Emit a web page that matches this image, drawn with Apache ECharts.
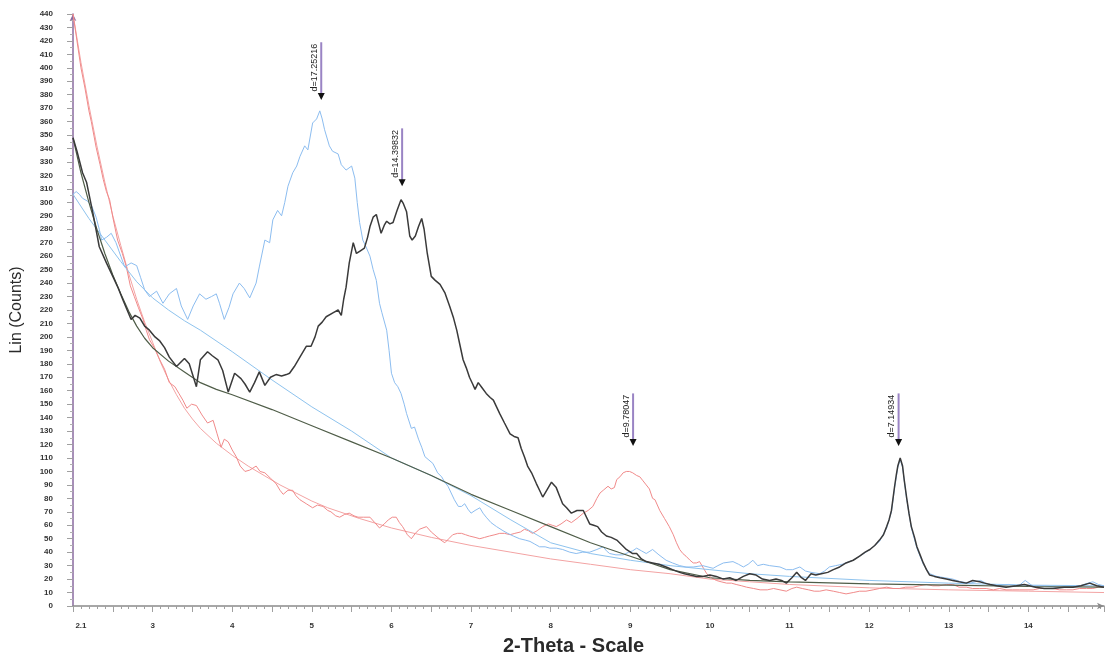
<!DOCTYPE html>
<html><head><meta charset="utf-8">
<script src="https://cdn.jsdelivr.net/npm/echarts@6/dist/echarts.min.js"></script>
<style>html,body{margin:0;padding:0;background:#fff}#c{width:1109px;height:662px}</style>
</head><body><div id="c"></div>
<script>
// ---- data (2-Theta, Lin counts) ----
const blackTheta = [2.00,2.05,2.12,2.17,2.25,2.33,2.42,2.50,2.57,2.63,2.73,2.78,2.84,2.90,2.96,3.03,3.09,3.15,3.21,3.30,3.40,3.46,3.55,3.60,3.69,3.75,3.82,3.88,3.95,4.03,4.11,4.16,4.22,4.28,4.34,4.41,4.48,4.55,4.62,4.68,4.72,4.78,4.85,4.93,4.99,5.04,5.08,5.13,5.18,5.27,5.33,5.37,5.40,5.43,5.47,5.52,5.56,5.61,5.66,5.70,5.73,5.77,5.81,5.84,5.87,5.91,5.94,5.98,6.02,6.07,6.12,6.15,6.19,6.23,6.26,6.30,6.34,6.38,6.41,6.45,6.50,6.55,6.61,6.67,6.73,6.78,6.82,6.86,6.90,6.94,6.98,7.02,7.05,7.09,7.14,7.19,7.24,7.28,7.32,7.36,7.42,7.49,7.54,7.59,7.63,7.67,7.71,7.76,7.82,7.86,7.90,7.95,8.01,8.07,8.11,8.15,8.20,8.26,8.33,8.41,8.45,8.49,8.54,8.59,8.64,8.70,8.76,8.83,8.90,8.95,9.03,9.08,9.14,9.20,9.28,9.36,9.45,9.53,9.62,9.68,9.75,9.83,9.91,10.00,10.08,10.17,10.25,10.33,10.42,10.50,10.58,10.66,10.75,10.83,10.90,10.96,11.03,11.09,11.15,11.20,11.27,11.33,11.40,11.48,11.55,11.63,11.71,11.80,11.88,11.95,12.01,12.07,12.13,12.18,12.22,12.25,12.28,12.30,12.32,12.34,12.36,12.39,12.42,12.44,12.47,12.50,12.53,12.57,12.60,12.64,12.68,12.72,12.76,12.82,12.89,12.97,13.05,13.13,13.22,13.30,13.39,13.45,13.52,13.60,13.72,13.85,13.95,14.09,14.20,14.31,14.45,14.56,14.66,14.77,14.86,14.95];
const blackCounts = [348,338,322,315,292,267,255,245,236,227,213,216,214,208,205,200,197,192,185,178,184,180,163,183,189,186,183,175,159,173,169,165,159,166,174,164,170,172,171,172,173,178,185,193,193,200,208,211,215,218,220,216,228,237,255,270,262,264,266,274,282,289,291,284,277,283,286,284,285,294,302,299,293,275,272,275,282,288,280,262,245,242,239,233,223,214,205,194,183,177,170,165,161,166,162,158,155,153,148,143,136,128,126,125,117,111,104,99,91,86,81,86,92,88,82,76,73,69,71,71,66,61,60,59,55,52,51,49,45,42,39,39,35,33,32,31,29,27,25,24,23,22,22,23,22,20,21,19,22,24,23,20,19,20,19,17,21,25,21,19,24,23,24,25,27,29,32,34,37,40,42,45,49,53,59,64,71,80,89,97,104,110,104,94,81,69,59,51,44,38,32,27,23,22,21,20,19,18,17,19,18,17,16,15,14,15,16,14,13,13,14,14,15,17,15,14];

const blackBgTheta = [2.0,2.1,2.2,2.3,2.4,2.5,2.6,2.7,2.8,2.9,3.0,3.2,3.4,3.6,3.8,4.0,4.5,5.0,5.5,6.0,6.5,7.0,7.5,8.0,8.5,9.0,9.5,10.0,10.5,11.0,12.0,13.0,14.0,14.95];
const blackBgCounts = [348,322,300,280,262,246,232,219,208,199,192,182,174,166,161,157,146,134,122,110,97,83,71,59,47,37,27,21,19,18,16.5,15.5,14.5,14];

const blueTheta = [2.00,2.04,2.08,2.12,2.18,2.23,2.29,2.33,2.36,2.42,2.48,2.54,2.60,2.65,2.73,2.80,2.85,2.90,2.96,3.05,3.13,3.21,3.30,3.36,3.44,3.51,3.59,3.67,3.74,3.80,3.84,3.90,3.96,4.01,4.09,4.15,4.22,4.30,4.34,4.41,4.47,4.51,4.57,4.62,4.66,4.70,4.76,4.81,4.85,4.91,4.95,5.01,5.06,5.10,5.13,5.16,5.22,5.26,5.33,5.37,5.43,5.50,5.54,5.57,5.60,5.64,5.68,5.73,5.77,5.81,5.85,5.88,5.94,5.97,6.00,6.04,6.08,6.12,6.16,6.19,6.25,6.29,6.34,6.38,6.42,6.46,6.52,6.58,6.63,6.67,6.71,6.75,6.79,6.84,6.88,6.92,6.96,7.00,7.05,7.11,7.15,7.19,7.25,7.32,7.40,7.46,7.53,7.61,7.68,7.74,7.80,7.86,7.93,7.99,8.07,8.15,8.24,8.32,8.40,8.49,8.58,8.66,8.70,8.74,8.82,8.91,8.98,9.03,9.08,9.14,9.20,9.28,9.36,9.45,9.53,9.62,9.70,9.79,9.91,10.04,10.10,10.17,10.29,10.36,10.42,10.48,10.54,10.60,10.67,10.75,10.88,10.96,11.04,11.13,11.20,11.27,11.38,11.44,11.50,11.58,11.66,11.75,11.80,11.88,12.01,12.13,12.22,12.28,12.32,12.36,12.39,12.42,12.47,12.53,12.60,12.68,12.76,12.85,12.95,13.05,13.15,13.27,13.40,13.50,13.62,13.75,13.88,13.96,14.05,14.20,14.35,14.50,14.65,14.75,14.81,14.88,14.95];
const blueCounts = [306,308,306,303,301,298,289,280,272,274,277,270,260,252,255,253,244,235,230,234,225,232,236,223,213,223,232,228,230,232,225,213,222,232,240,236,229,240,252,272,270,287,294,290,300,312,322,327,334,342,339,359,362,368,362,354,342,338,336,328,324,327,318,300,285,272,267,260,250,242,225,218,205,190,173,166,163,158,150,143,132,133,124,118,111,109,106,99,96,92,89,84,79,74,74,76,72,69,71,73,69,66,62,59,56,54,52,50,49,48,46,44,44,43,43,42,40,39,40,40,42,44,41,39,38,38,40,41,43,41,39,42,38,34,32,30,29,29,30,28,30,32,33,31,29,31,34,30,31,30,29,27,27,29,26,25,24,26,29,30,31,33,34,37,42,48,58,70,88,103,109,103,80,58,43,31,24,22,21,20,18,17,19,16,15,16,15,19,15,15,14,14,15,17,18,16,15];

const blueBgTheta = [2.0,2.2,2.4,2.6,2.8,3.0,3.2,3.4,3.6,4.0,4.5,5.0,5.5,6.0,6.5,7.0,7.5,8.0,8.5,9.0,9.5,10.0,10.5,11.0,12.0,13.0,14.0,14.95];
const blueBgCounts = [306,288,272,256,241,229,220,212,205,189,168,148,130,110,97,82,64,47,39,34,30,27,24,22,19,17,15.5,15];

const redTheta = [2.00,2.05,2.10,2.15,2.20,2.23,2.29,2.34,2.38,2.42,2.46,2.50,2.56,2.62,2.67,2.72,2.77,2.82,2.88,2.92,2.96,3.02,3.09,3.15,3.21,3.28,3.33,3.38,3.43,3.49,3.55,3.62,3.69,3.76,3.81,3.86,3.90,3.95,4.00,4.05,4.10,4.16,4.22,4.30,4.35,4.41,4.48,4.55,4.60,4.64,4.70,4.76,4.80,4.85,4.93,5.01,5.07,5.14,5.20,5.24,5.30,5.35,5.41,5.47,5.53,5.58,5.65,5.73,5.79,5.85,5.91,5.96,6.01,6.06,6.10,6.14,6.20,6.25,6.30,6.35,6.44,6.50,6.56,6.62,6.67,6.72,6.77,6.83,6.88,6.93,6.98,7.05,7.11,7.17,7.23,7.30,7.36,7.42,7.49,7.55,7.62,7.67,7.72,7.77,7.83,7.90,7.97,8.02,8.07,8.13,8.20,8.26,8.33,8.41,8.47,8.53,8.58,8.62,8.66,8.72,8.76,8.80,8.83,8.87,8.91,8.95,8.99,9.03,9.08,9.12,9.16,9.20,9.24,9.28,9.31,9.37,9.43,9.49,9.54,9.58,9.62,9.66,9.70,9.75,9.79,9.83,9.87,9.92,9.96,10.02,10.08,10.14,10.21,10.27,10.33,10.40,10.46,10.55,10.63,10.72,10.80,10.88,10.96,11.03,11.09,11.16,11.24,11.31,11.38,11.46,11.55,11.63,11.71,11.80,11.88,11.96,12.05,12.13,12.22,12.30,12.38,12.46,12.55,12.63,12.72,12.80,12.88,12.97,13.05,13.13,13.22,13.30,13.39,13.47,13.56,13.64,13.72,13.80,13.89,13.97,14.06,14.14,14.22,14.31,14.39,14.48,14.56,14.64,14.73,14.81,14.88,14.95];
const redCounts = [440,420,400,385,368,360,341,328,317,308,302,289,272,262,252,238,230,222,213,205,198,192,183,176,166,163,158,153,147,150,149,142,136,138,128,118,124,122,116,111,104,100,101,104,100,99,95,91,86,83,86,86,82,79,76,73,75,74,71,70,67,66,68,69,67,66,66,66,62,58,61,64,66,66,62,59,53,50,54,57,59,55,52,49,47,50,53,54,54,53,52,51,50,51,52,53,54,54,53,54,55,57,56,54,56,59,61,60,59,61,64,62,65,69,71,74,80,84,86,89,87,88,94,96,99,100,100,99,97,96,93,90,87,80,79,71,65,59,53,47,42,39,37,34,32,32,33,28,24,21,19,18,17,17,16,15,14,13,12,12,13,12,11,13,14,13,12,11,11,12,11,10,9,10,11,11,12,13,14,13,13,14,14,15,16,15,15,16,16,14,14,13,13,13,12,13,12,12,12,12,12,13,13,13,12,12,12,13,13,13,14,14];

const redBgTheta = [2.0,2.1,2.2,2.3,2.4,2.5,2.6,2.7,2.8,2.9,3.0,3.1,3.2,3.3,3.4,3.5,3.6,3.8,4.0,4.2,4.4,4.6,4.8,5.0,5.2,5.6,6.0,6.5,7.0,7.5,8.0,8.5,9.0,9.5,10.0,10.5,11.0,12.0,13.0,14.0,14.95];
const redBgCounts = [440,404,372,342,315,290,268,247,228,211,196,181,168,157,147,139,132,121,112,104,97,90,84,78,73,65,58,51,45,40,35,31,27,24,20,18,16,13.5,12,11,10];

// peak markers
const peakTheta = [5.118, 6.134, 9.035, 12.37];
const peakLabels = ['d=17.25216', 'd=14.39832', 'd=9.78047', 'd=7.14934'];
const markerTop = [419, 355, 158, 158];
const markerTip = [376, 312, 119, 119];

function pairs(xs, ys) { return xs.map((x, i) => [x, ys[i]]); }

const chart = echarts.init(document.getElementById('c'), null, {renderer: 'canvas'});
const lineBase = {type: 'line', showSymbol: false, symbol: 'none', animation: false, silent: true};
const F = 'Liberation Sans, Arial, sans-serif';

chart.setOption({
  animation: false,
  backgroundColor: '#fff',
  grid: {left: 73, right: 5, top: 14, bottom: 56, outerBoundsMode: 'none', containLabel: false},
  xAxis: [{
    type: 'value', min: 2, max: 14.95, interval: 0.1,
    name: '2-Theta - Scale', nameLocation: 'middle', nameGap: 30,
    nameTextStyle: {fontSize: 20, fontWeight: 'bold', color: '#2a2a2a', fontFamily: F, padding: [0, 30, 0, 0]},
    axisLine: {show: true, onZero: false, symbol: ['none', 'arrow'], symbolSize: [5, 7], lineStyle: {color: '#8a8a8a', width: 1.5}},
    axisTick: {show: true, length: 3, lineStyle: {color: '#a0a0a0'}},
    axisLabel: {
      fontSize: 8, fontWeight: 'bold', color: '#333', fontFamily: F, margin: 16,
      showMinLabel: true, showMaxLabel: false,
      formatter: function (v) {
        if (Math.abs(v - 2.1) < 1e-6) return '2.1';
        const r = Math.round(v);
        if (Math.abs(v - r) < 1e-6 && r >= 3) return String(r);
        return '';
      }
    },
    splitLine: {show: false}
  }, {
    type: 'value', min: 2, max: 14.95, interval: 0.5, position: 'bottom',
    axisLine: {show: false, onZero: false},
    axisTick: {show: true, length: 6, lineStyle: {color: '#a0a0a0'}},
    axisLabel: {show: false},
    splitLine: {show: false}
  }],
  yAxis: {
    type: 'value', min: 0, max: 440, interval: 10,
    name: 'Lin (Counts)', nameLocation: 'middle', nameGap: 48, nameRotate: 90,
    nameTextStyle: {fontSize: 16, color: '#2a2a2a', fontFamily: F},
    axisLine: {show: true, symbol: ['none', 'arrow'], symbolSize: [5, 7], lineStyle: {color: '#8a6aa0', width: 1.5}},
    axisTick: {show: true, length: 6, lineStyle: {color: '#a0a0a0'}},
    minorTick: {show: true, splitNumber: 2, length: 3, lineStyle: {color: '#b0b0b0'}},
    axisLabel: {fontSize: 8, fontWeight: 'bold', color: '#333', fontFamily: F, margin: 20},
    splitLine: {show: false}
  },
  series: [
    Object.assign({}, lineBase, {name: 'red background', data: pairs(redBgTheta, redBgCounts), lineStyle: {color: '#f3a3a3', width: 1}}),
    Object.assign({}, lineBase, {name: 'red', data: pairs(redTheta, redCounts), lineStyle: {color: '#f08a8a', width: 1}}),
    Object.assign({}, lineBase, {name: 'blue background', data: pairs(blueBgTheta, blueBgCounts), lineStyle: {color: '#8ec3ee', width: 1}}),
    Object.assign({}, lineBase, {name: 'blue', data: pairs(blueTheta, blueCounts), lineStyle: {color: '#8cbdf0', width: 1}}),
    Object.assign({}, lineBase, {name: 'black background', data: pairs(blackBgTheta, blackBgCounts), lineStyle: {color: '#4f5d48', width: 1.2}}),
    Object.assign({}, lineBase, {name: 'black', data: pairs(blackTheta, blackCounts), lineStyle: {color: '#3a3a3a', width: 1.5}}),
    {
      type: 'custom', name: 'peaks', silent: true, animation: false,
      encode: {x: 0, y: [1, 2]},
      data: peakTheta.map((t, i) => [t, markerTop[i], markerTip[i]]),
      renderItem: function (params, api) {
        const x = api.value(0);
        const pTop = api.coord([x, api.value(1)]);
        const pTip = api.coord([x, api.value(2)]);
        const label = peakLabels[params.dataIndex];
        return {
          type: 'group', children: [
            {type: 'line', shape: {x1: pTop[0], y1: pTop[1], x2: pTip[0], y2: pTip[1] - 6},
              style: {stroke: '#9a84c4', lineWidth: 2}},
            {type: 'polygon', shape: {points: [[pTip[0] - 3.5, pTip[1] - 7], [pTip[0] + 3.5, pTip[1] - 7], [pTip[0], pTip[1]]]},
              style: {fill: '#111'}},
            {type: 'text', x: pTop[0] - 7, y: (pTop[1] + pTip[1] - 7) / 2, rotation: Math.PI / 2,
              style: {text: label, fill: '#222', fontSize: 9, fontFamily: F, align: 'center', verticalAlign: 'middle'}}
          ]
        };
      }
    }
  ]
});
</script>
</body></html>
